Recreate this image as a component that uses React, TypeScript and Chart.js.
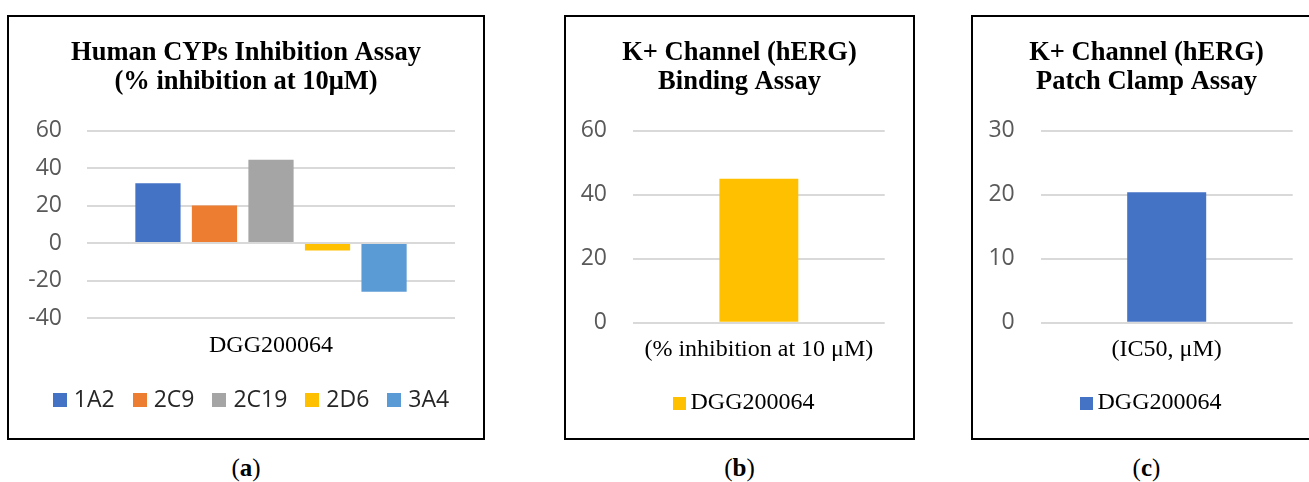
import { useEffect, useRef } from "react";
import { Chart, registerables } from "chart.js";

Chart.register(...registerables);

const SERIF = "'Liberation Serif', 'Times New Roman', serif";
const SANS = "'Open Sans', 'Noto Sans', sans-serif";

// (a) Human CYP isoform inhibition at 10 µM
const cypTitle = ["Human CYPs Inhibition Assay", "(% inhibition at 10μM)"];
const cypCategories = ["DGG200064"];
const cypIsoforms = ["1A2", "2C9", "2C19", "2D6", "3A4"];
const cypInhibition = [32, 20, 44.5, -4, -26];
const cypColors = ["#4472C4", "#ED7D31", "#A5A5A5", "#FFC000", "#5B9BD5"];
const cypTicks = [-40, -20, 0, 20, 40, 60];

// (b) hERG binding assay
const bindingTitle = ["K+ Channel (hERG)", "Binding Assay"];
const bindingCategories = ["(% inhibition at 10 μM)"];
const bindingSeries = "DGG200064";
const bindingValues = [45];
const bindingColor = "#FFC000";
const bindingTicks = [0, 20, 40, 60];

// (c) hERG patch clamp assay
const patchTitle = ["K+ Channel (hERG)", "Patch Clamp Assay"];
const patchCategories = ["(IC50, μM)"];
const patchSeries = "DGG200064";
const patchValues = [20.4];
const patchColor = "#4472C4";
const patchTicks = [0, 10, 20, 30];

type LegendOpts = {
  y: number;
  box: number;
  gap: number;
  spacing: number;
  shift: number;
  font: string;
  color: string;
};

// Square-swatch legend laid out in one centred row under the axis.
function swatchLegend(o: LegendOpts) {
  return {
    id: "swatchLegend",
    afterDraw(chart: any) {
      const { ctx } = chart;
      const items = chart.data.datasets.map((ds: any) => ({
        text: String(ds.label),
        color: ds.backgroundColor as string,
      }));
      ctx.save();
      ctx.font = o.font;
      const widths = items.map((it: any) => ctx.measureText(it.text).width);
      const total =
        widths.reduce((s: number, w: number) => s + o.box + o.gap + w, 0) +
        o.spacing * (items.length - 1);
      let x = chart.width / 2 + o.shift - total / 2;
      ctx.textBaseline = "middle";
      ctx.textAlign = "left";
      items.forEach((it: any, i: number) => {
        ctx.fillStyle = it.color;
        ctx.fillRect(Math.round(x), Math.round(o.y - o.box / 2), o.box, o.box);
        x += o.box + o.gap;
        ctx.fillStyle = o.color;
        ctx.fillText(it.text, x, o.y);
        x += widths[i] + o.spacing;
      });
      ctx.restore();
    },
  };
}

function buildOptions(p: {
  title: string[];
  ticks: number[];
  axisWidth: number;
  axisHeight: number;
  yPad: number;
  right: number;
}) {
  return {
    responsive: false,
    animation: false as const,
    layout: { padding: 0 },
    plugins: {
      legend: { display: false },
      tooltip: { enabled: false },
      title: {
        display: true,
        text: p.title,
        color: "#000",
        font: { family: SERIF, size: 26.5, weight: "bold" as const, lineHeight: "29px" },
        padding: { top: 22, bottom: 33.7 },
      },
    },
    scales: {
      x: {
        type: "category" as const,
        grid: { display: false, drawTicks: false },
        border: { display: false },
        ticks: { color: "#000", font: { family: SERIF, size: 24 }, padding: 13, maxRotation: 0 },
        afterFit: (s: any) => {
          s.height = p.axisHeight;
        },
      },
      y: {
        type: "linear" as const,
        min: p.ticks[0],
        max: p.ticks[p.ticks.length - 1],
        z: 1,
        grid: { color: "#D9D9D9", lineWidth: 2, drawTicks: false },
        border: { display: false },
        ticks: {
          stepSize: p.ticks[1] - p.ticks[0],
          color: "#595959",
          font: { family: SANS, size: 23 },
          padding: p.yPad,
        },
        afterFit: (s: any) => {
          s.width = p.axisWidth;
        },
      },
      // blank right-hand margin so the plot sits left of centre while the title stays centred
      margin: {
        type: "linear" as const,
        position: "right" as const,
        grid: { display: false, drawTicks: false },
        border: { display: false },
        ticks: { display: false },
        afterFit: (s: any) => {
          s.width = p.right;
        },
      },
    },
  };
}

function cypConfig(): any {
  return {
    type: "bar",
    data: {
      labels: cypCategories,
      datasets: cypIsoforms.map((iso, i) => ({
        label: iso,
        data: [cypInhibition[i]],
        backgroundColor: cypColors[i],
        categoryPercentage: 0.768,
        barPercentage: 0.8,
      })),
    },
    options: buildOptions({
      title: cypTitle,
      ticks: cypTicks,
      axisWidth: 78,
      axisHeight: 120,
      yPad: 25,
      right: 28,
    }),
    plugins: [
      swatchLegend({ y: 383, box: 14, gap: 7, spacing: 18, shift: 5, font: `23px ${SANS}`, color: "#262626" }),
    ],
  };
}

function singleConfig(
  title: string[],
  categories: string[],
  series: string,
  values: number[],
  color: string,
  ticks: number[],
  axisWidth: number,
  right: number
): any {
  return {
    type: "bar",
    data: {
      labels: categories,
      datasets: [
        {
          label: series,
          data: values,
          backgroundColor: color,
          categoryPercentage: 1,
          barPercentage: 0.3135,
        },
      ],
    },
    options: buildOptions({ title, ticks, axisWidth, axisHeight: 115.3, yPad: 26, right }),
    plugins: [
      swatchLegend({ y: 386, box: 13, gap: 5, spacing: 0, shift: 4, font: `24px ${SERIF}`, color: "#000" }),
    ],
  };
}

function Panel(props: { left: number; width: number; make: () => any }) {
  const ref = useRef<HTMLCanvasElement>(null);
  useEffect(() => {
    const chart = new Chart(ref.current as HTMLCanvasElement, props.make());
    return () => chart.destroy();
  }, []);
  return (
    <div
      style={{
        position: "absolute",
        left: props.left,
        top: 15,
        width: props.width,
        height: 425,
        border: "2px solid #000",
        boxSizing: "border-box",
        background: "#fff",
      }}
    >
      <canvas ref={ref} width={props.width - 4} height={421} style={{ display: "block" }} />
    </div>
  );
}

function Caption(props: { left: number; width: number; letter: string }) {
  return (
    <div
      style={{
        position: "absolute",
        left: props.left,
        top: 455,
        width: props.width,
        textAlign: "center",
        fontFamily: SERIF,
        fontSize: 25,
        lineHeight: "26px",
        color: "#000",
      }}
    >
      (<b>{props.letter}</b>)
    </div>
  );
}

export default function App() {
  return (
    <div
      style={{
        position: "absolute",
        left: 0,
        top: 0,
        width: 1309,
        height: 482,
        overflow: "hidden",
        background: "#fff",
      }}
    >
      <Panel left={7} width={478} make={cypConfig} />
      <Panel
        left={564}
        width={351}
        make={() =>
          singleConfig(bindingTitle, bindingCategories, bindingSeries, bindingValues, bindingColor, bindingTicks, 67, 28.3)
        }
      />
      <Panel
        left={971}
        width={351}
        make={() =>
          singleConfig(patchTitle, patchCategories, patchSeries, patchValues, patchColor, patchTicks, 67.7, 27.3)
        }
      />
      <Caption left={7} width={478} letter="a" />
      <Caption left={564} width={351} letter="b" />
      <Caption left={971} width={351} letter="c" />
    </div>
  );
}
